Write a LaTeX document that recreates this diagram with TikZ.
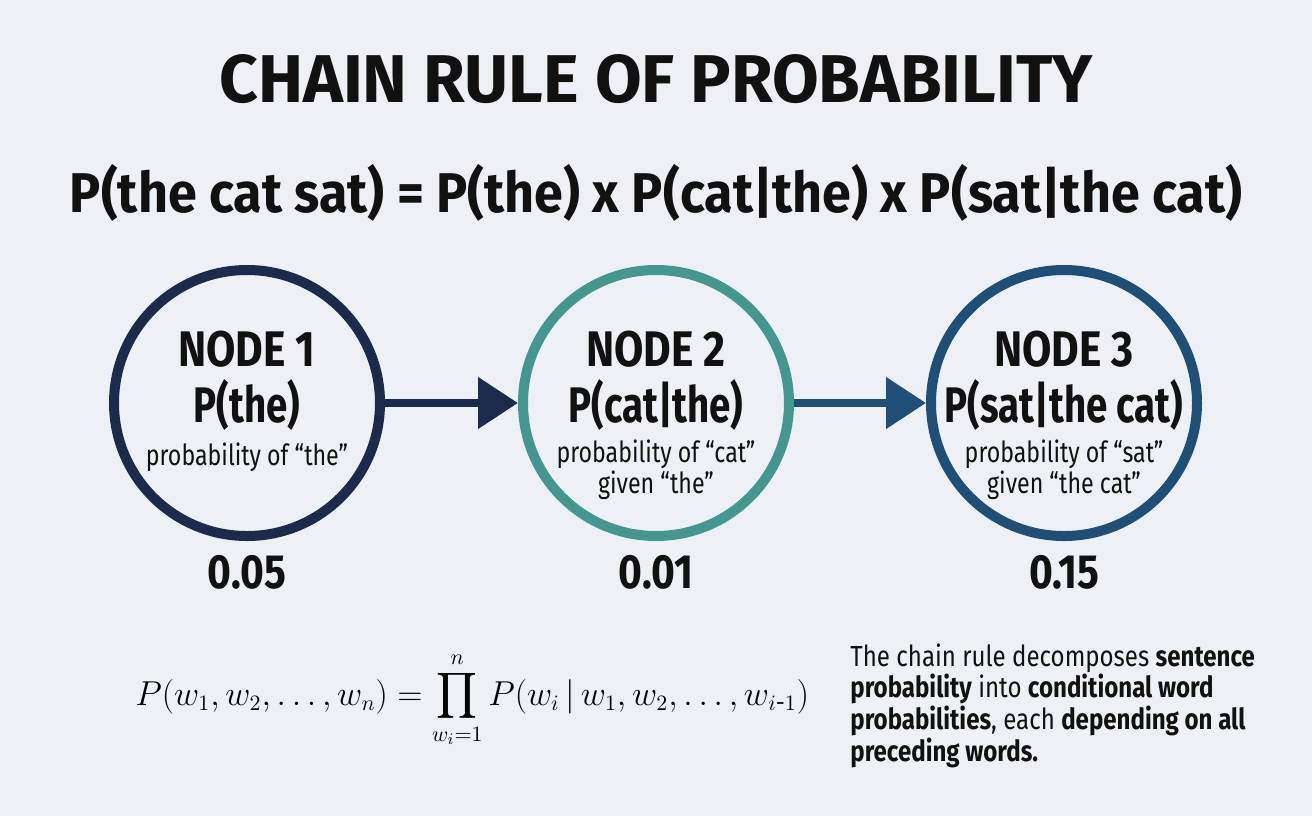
\documentclass[tikz,border=0pt]{standalone}
\usepackage{amsmath, amssymb}
\usepackage[no-math]{fontspec}
\setmainfont{Fira Sans}
\newfontfamily\condfont{Fira Sans}[FakeStretch=0.85]
\newfontfamily\widefont{Fira Sans}[FakeStretch=0.93]
\newfontfamily\notefont{Fira Sans}[FakeStretch=0.83]
\newfontfamily\narrowfont{Fira Sans}[FakeStretch=0.8]
\newfontfamily\probfont{Fira Sans}[FakeStretch=0.77]
\usetikzlibrary{arrows.meta}

\definecolor{bgcol}{HTML}{EDF1F5}
\definecolor{ink}{HTML}{111111}
\definecolor{navy}{HTML}{1C2B4B}
\definecolor{teal}{HTML}{43978F}
\definecolor{steel}{HTML}{1F4F76}

\begin{document}
\begin{tikzpicture}[x=0.5pt, y=-0.5pt,
  probnode/.style={circle, line width=5pt, minimum size=133pt, inner sep=0pt},
  nodehead/.style={anchor=base, text=ink, font=\condfont\bfseries\fontsize{25}{27}\selectfont},
  nodeprob/.style={anchor=base, text=ink, font=\probfont\bfseries\fontsize{25}{27}\selectfont},
  nodedesc/.style={anchor=base, text=ink, align=center, font=\narrowfont\fontsize{14.5}{14}\selectfont},
  nodeval/.style={anchor=base, text=ink, font=\condfont\bfseries\fontsize{24}{26}\selectfont},
  flow/.style={line width=4pt, -{Triangle[length=20pt, width=25pt]}}]
  \fill[bgcol] (0,0) rectangle (1312,816);
  \useasboundingbox (0,0) rectangle (1312,816);

  % headings
  \node[anchor=base, text=ink, font=\bfseries\fontsize{33.8}{35}\selectfont]
    (title) at (656,102) {CHAIN RULE OF PROBABILITY};
  \node[anchor=base, text=ink, font=\widefont\bfseries\fontsize{28}{30}\selectfont]
    (chain) at (656,212) {P(the cat sat) = P(the) x P(cat|the) x P(sat|the cat)};

  % the three steps
  \node[probnode, draw=navy] (n1) at (247,403) {};
  \node[probnode, draw=teal] (n2) at (656,403) {};
  \node[probnode, draw=steel] (n3) at (1064,403) {};

  \node[nodehead] (h1) at (247,366) {NODE 1};
  \node[nodehead] (h2) at (656,366) {NODE 2};
  \node[nodehead] (h3) at (1064,366) {NODE 3};

  \node[nodeprob] (p1) at (247,422) {P(the)};
  \node[nodeprob] (p2) at (656,422) {P(cat|the)};
  \node[nodeprob] (p3) at (1064,422) {P(sat|the cat)};

  % base of a two-line text is its last line
  \node[nodedesc] (d1) at (247,465) {probability of “the”};
  \node[nodedesc] (d2) at (656,493) {probability of “cat”\\given “the”};
  \node[nodedesc] (d3) at (1064,493) {probability of “sat”\\given “the cat”};

  \node[nodeval] (v1) at (247,588) {0.05};
  \node[nodeval] (v2) at (656,588) {0.01};
  \node[nodeval] (v3) at (1064,588) {0.15};

  \draw[flow, navy] (n1) -- (n2);
  \draw[flow, steel] (n2) -- (n3);

  % general form
  \node[anchor=base west, inner sep=0pt, font=\fontsize{16}{18}\selectfont]
    (rule) at (135,705)
    {$\displaystyle P(w_1, w_2, \ldots, w_n) = \prod_{w_i=1}^{n} P(w_i \,|\, w_1, w_2, \ldots, w_{i\text{-}1})$};

  \node[anchor=north west, inner sep=0pt, align=left, text=ink,
    font=\notefont\fontsize{14.5}{14.5}\selectfont] (note) at (850,643)
    {The chain rule decomposes \textbf{sentence}\\
     \textbf{probability} into \textbf{conditional word}\\
     \textbf{probabilities}, each \textbf{depending on all}\\
     \textbf{preceding words.}};
\end{tikzpicture}
\end{document}
